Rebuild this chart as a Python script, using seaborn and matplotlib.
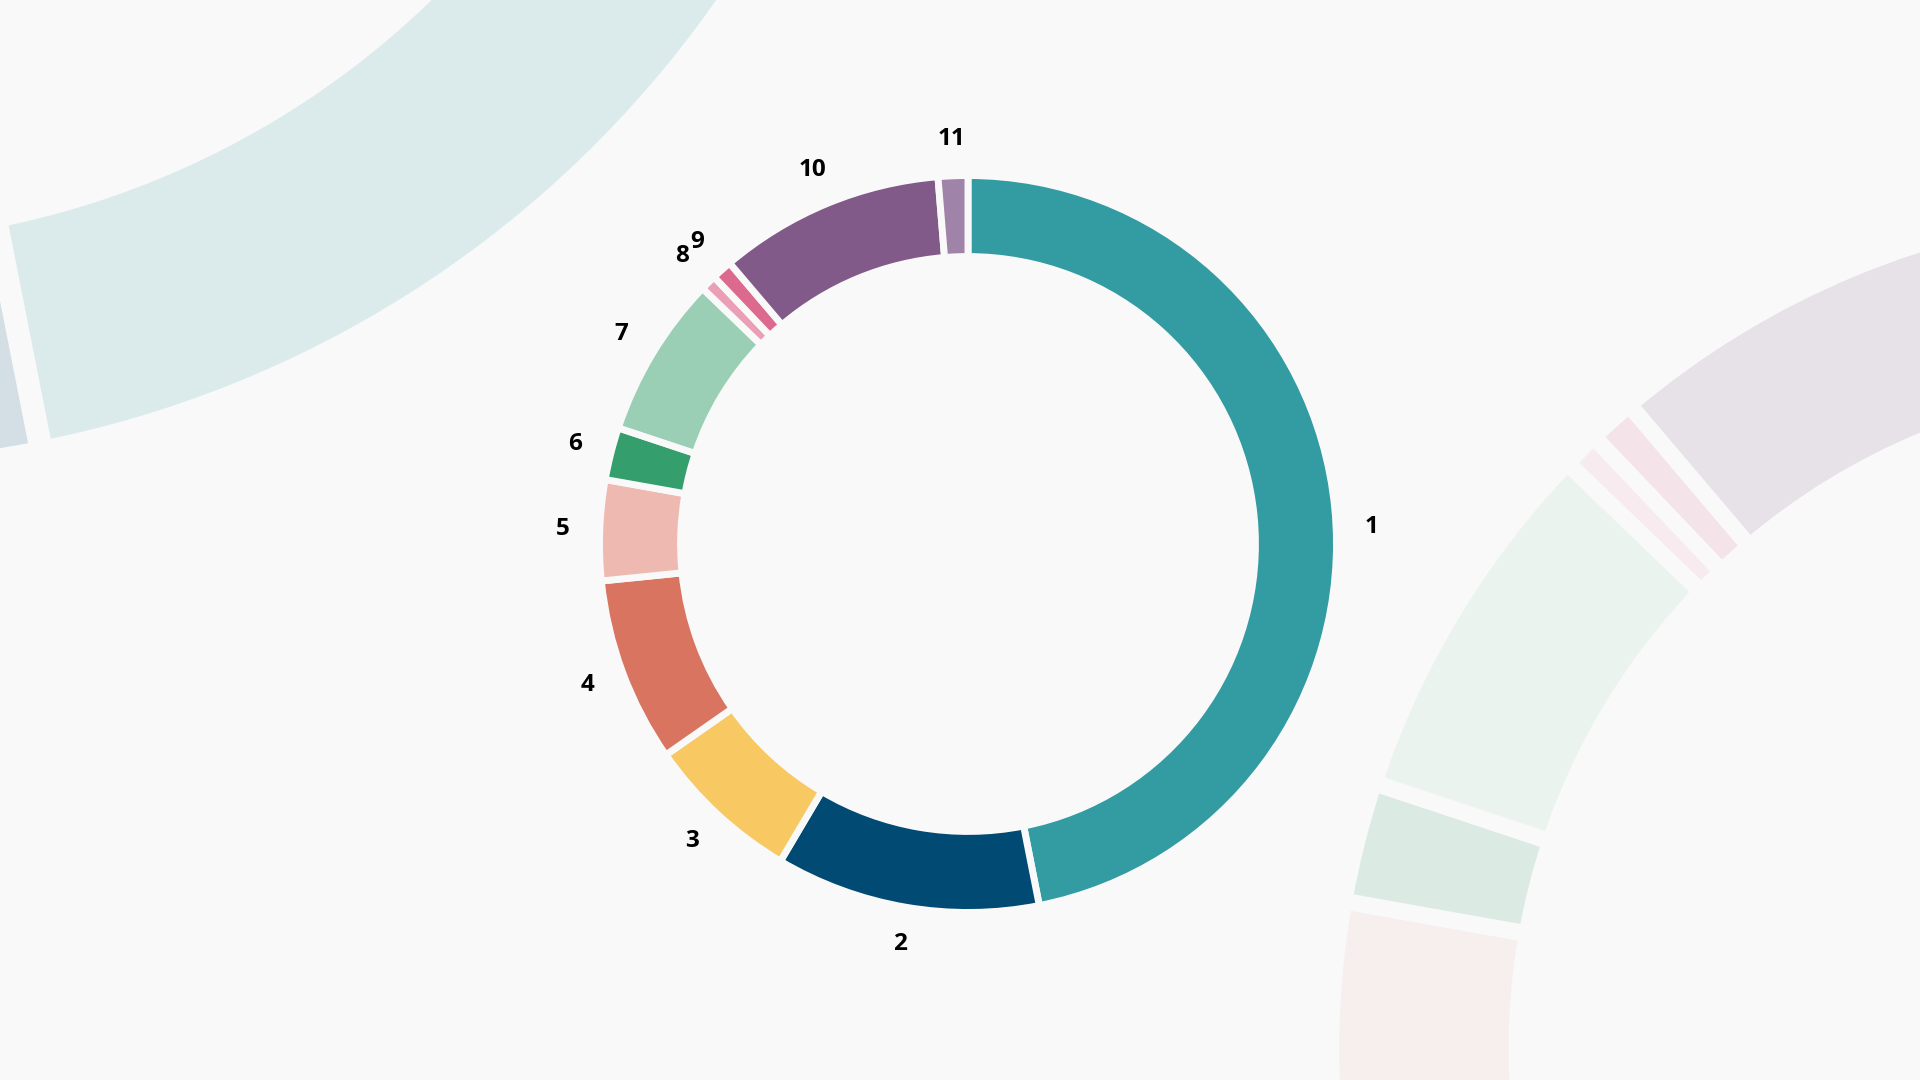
import matplotlib
matplotlib.use("Agg")
import matplotlib.pyplot as plt
from matplotlib.colors import to_rgb
import seaborn as sns

labels = ["1", "2", "3", "4", "5", "6", "7", "8", "9", "10", "11"]
values = [46.9, 11.6, 6.8, 8.1, 4.4, 2.3, 7.1, 0.7, 0.9, 9.9, 1.3]
colors = ["#339ba2", "#004a73", "#f8c962", "#d97460", "#edb9b0", "#349e6d",
          "#9acfb6", "#ea9fb6", "#db6a8e", "#815a89", "#a083a8"]

BG = "#f9f9f9"
W, H = 1920, 1080

sns.set_theme(style="white")
plt.rcParams["font.family"] = ["Open Sans", "Noto Sans", "DejaVu Sans"]

fig = plt.figure(figsize=(W / 100, H / 100), dpi=100, facecolor=BG)
ax = fig.add_axes([0, 0, 1, 1])
ax.set_facecolor(BG)


def faded(c, a):
    bg = to_rgb(BG)
    return tuple(a * x + (1 - a) * b for x, b in zip(to_rgb(c), bg))


def ring(center, radius, fade, lw, show_labels):
    cols = colors if fade is None else [faded(c, fade) for c in colors]
    wedges, texts = ax.pie(
        values,
        labels=labels if show_labels else None,
        colors=cols,
        startangle=90,
        counterclock=False,
        center=center,
        radius=radius,
        labeldistance=1.1,
        wedgeprops=dict(width=radius * 0.22, edgecolor=BG, linewidth=lw,
                        joinstyle="round"),
        textprops=dict(fontsize=17.5, fontweight="bold", color="black"),
    )
    for t in texts:
        t.set_horizontalalignment("center")
        t.set_verticalalignment("center")
    if show_labels:
        # the big slice's label sits a little lower in the original
        x, y = texts[0].get_position()
        texts[0].set_position((x, y - 22))
    return wedges


# faded, enlarged copies in the background
ring((-170, H + 620), 1093, 0.15, 16.5, False)
ring((2176, H - 1049), 845, 0.15, 12, False)
# main ring
ring((968, H - 544), 368.5, None, 5, True)

ax.set_xlim(0, W)
ax.set_ylim(0, H)
ax.set_aspect("equal")
ax.axis("off")

fig.savefig("out.png", dpi=100, facecolor=BG)
